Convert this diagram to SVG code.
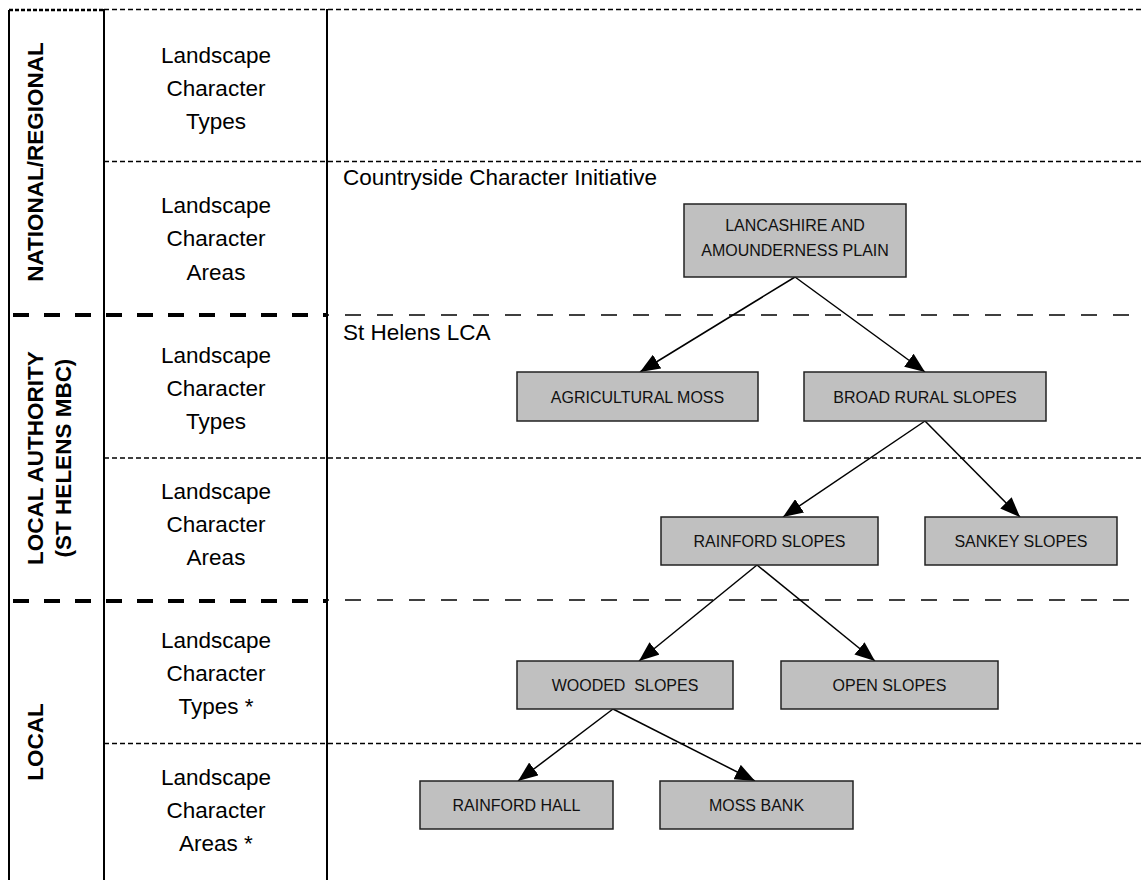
<svg xmlns="http://www.w3.org/2000/svg" width="1144" height="880" viewBox="0 0 1144 880">
<style>
.frame{stroke:#000;stroke-width:2;fill:none}
.thin{stroke:#000;stroke-width:1.3;stroke-dasharray:5 3;fill:none}
.heavy{stroke:#000;stroke-width:4;stroke-dasharray:16 15;fill:none}
.long{stroke:#000;stroke-width:1.3;stroke-dasharray:16 16;fill:none}
.topl{stroke:#000;stroke-width:2.5;stroke-dasharray:4 2;fill:none}
.lvl{font-family:"Liberation Sans",Arial,sans-serif;font-size:22.5px;font-weight:bold;fill:#000;text-anchor:middle}
.cat{font-family:"Liberation Sans",Arial,sans-serif;font-size:22.5px;fill:#000;text-anchor:middle}
.lab{font-family:"Liberation Sans",Arial,sans-serif;font-size:22.5px;fill:#000}
.box{fill:#c0c0c0;stroke:#222;stroke-width:1.5}
.nt{font-family:"Liberation Sans",Arial,sans-serif;font-size:16px;fill:#111;text-anchor:middle}
.con{stroke:#000;stroke-width:1.5;fill:none}
</style>
<defs>
<marker id="ah" markerUnits="userSpaceOnUse" markerWidth="20" markerHeight="16" viewBox="0 0 20 16" refX="20" refY="8" orient="auto">
<path d="M0,0 L20,8 L0,16 z" fill="#000"/>
</marker>
</defs>
<rect width="1144" height="880" fill="#fff"/>
<g id="grid">
<line class="topl" x1="9" y1="10" x2="104" y2="10"/>
<line class="thin" x1="104" y1="9.5" x2="1144" y2="9.5"/>
<line class="frame" x1="9" y1="10" x2="9" y2="880"/>
<line class="frame" x1="104" y1="9" x2="104" y2="880"/>
<line class="frame" x1="327" y1="9" x2="327" y2="880"/>
<line class="thin" x1="104" y1="161.5" x2="1144" y2="161.5"/>
<line class="heavy" x1="9" y1="315" x2="327" y2="315" stroke-dashoffset="-4"/>
<line class="long" x1="327" y1="315" x2="1144" y2="315" stroke-dashoffset="-18"/>
<line class="thin" x1="104" y1="458" x2="1144" y2="458"/>
<line class="heavy" x1="9" y1="601" x2="327" y2="601" stroke-dashoffset="-4"/>
<line class="long" x1="327" y1="600" x2="1144" y2="600" stroke-dashoffset="-18"/>
<line class="thin" x1="104" y1="743.5" x2="1144" y2="743.5"/>
</g>
<g id="levels">
<text class="lvl" transform="translate(43,162) rotate(-90)">NATIONAL/REGIONAL</text>
<text class="lvl" transform="translate(43,458) rotate(-90)">LOCAL AUTHORITY</text>
<text class="lvl" transform="translate(71,458) rotate(-90)">(ST HELENS MBC)</text>
<text class="lvl" transform="translate(43,742) rotate(-90)">LOCAL</text>
</g>
<g id="categories">
<text class="cat" x="216" y="63">Landscape</text>
<text class="cat" x="216" y="96">Character</text>
<text class="cat" x="216" y="129">Types</text>
<text class="cat" x="216" y="213">Landscape</text>
<text class="cat" x="216" y="246">Character</text>
<text class="cat" x="216" y="280">Areas</text>
<text class="cat" x="216" y="363">Landscape</text>
<text class="cat" x="216" y="396">Character</text>
<text class="cat" x="216" y="429">Types</text>
<text class="cat" x="216" y="499">Landscape</text>
<text class="cat" x="216" y="532">Character</text>
<text class="cat" x="216" y="565">Areas</text>
<text class="cat" x="216" y="648">Landscape</text>
<text class="cat" x="216" y="681">Character</text>
<text class="cat" x="216" y="714">Types *</text>
<text class="cat" x="216" y="785">Landscape</text>
<text class="cat" x="216" y="818">Character</text>
<text class="cat" x="216" y="851">Areas *</text>
</g>
<g id="sources">
<text class="lab" x="343" y="185">Countryside Character Initiative</text>
<text class="lab" x="343" y="340">St Helens LCA</text>
</g>
<g id="connectors">
<line class="con" x1="795" y1="277" x2="640" y2="372" marker-end="url(#ah)"/>
<line class="con" x1="795" y1="277" x2="925" y2="372" marker-end="url(#ah)"/>
<line class="con" x1="925" y1="421" x2="783" y2="517" marker-end="url(#ah)"/>
<line class="con" x1="925" y1="421" x2="1020" y2="517" marker-end="url(#ah)"/>
<line class="con" x1="757" y1="565" x2="639" y2="661" marker-end="url(#ah)"/>
<line class="con" x1="757" y1="565" x2="875" y2="661" marker-end="url(#ah)"/>
<line class="con" x1="613" y1="709" x2="518" y2="781" marker-end="url(#ah)"/>
<line class="con" x1="613" y1="709" x2="755" y2="781" marker-end="url(#ah)"/>
</g>
<g id="n-lancashire">
<rect class="box" x="684" y="204" width="222" height="73"/>
<text class="nt" x="795" y="231">LANCASHIRE AND</text>
<text class="nt" x="795" y="256">AMOUNDERNESS PLAIN</text>
</g>
<g id="n-agricultural">
<rect class="box" x="517" y="372" width="241" height="49"/>
<text class="nt" x="637.5" y="403">AGRICULTURAL MOSS</text>
</g>
<g id="n-broad">
<rect class="box" x="804" y="372" width="242" height="49"/>
<text class="nt" x="925" y="403">BROAD RURAL SLOPES</text>
</g>
<g id="n-rainford-slopes">
<rect class="box" x="661" y="517" width="217" height="48"/>
<text class="nt" x="769.5" y="547">RAINFORD SLOPES</text>
</g>
<g id="n-sankey">
<rect class="box" x="925" y="517" width="192" height="48"/>
<text class="nt" x="1021" y="547">SANKEY SLOPES</text>
</g>
<g id="n-wooded">
<rect class="box" x="517" y="661" width="216" height="48"/>
<text class="nt" x="625" y="691">WOODED&#160; SLOPES</text>
</g>
<g id="n-open">
<rect class="box" x="781" y="661" width="217" height="48"/>
<text class="nt" x="889.5" y="691">OPEN SLOPES</text>
</g>
<g id="n-rainford-hall">
<rect class="box" x="420" y="781" width="193" height="48"/>
<text class="nt" x="516.5" y="811">RAINFORD HALL</text>
</g>
<g id="n-moss-bank">
<rect class="box" x="660" y="781" width="193" height="48"/>
<text class="nt" x="756.5" y="811">MOSS BANK</text>
</g>
</svg>
